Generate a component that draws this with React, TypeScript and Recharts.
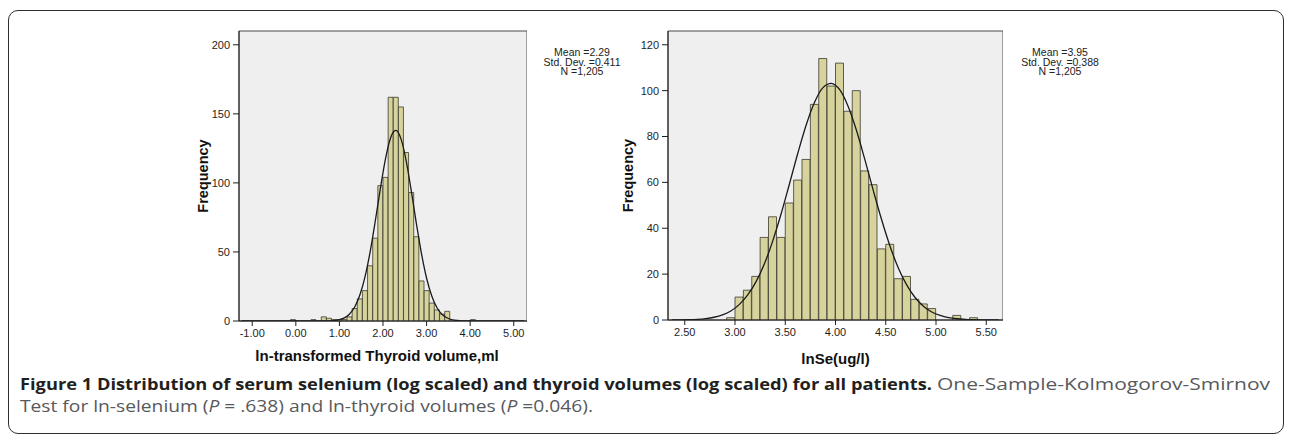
import React from "react";
import {
  ComposedChart,
  Bar,
  Line,
  XAxis,
  YAxis,
  CartesianGrid,
  ReferenceArea,
} from "recharts";

// left panel: ln thyroid volume, bins of 0.118 starting at -1.304
const THY_START = -1.304;
const THY_BIN = 0.118;
const THY_COUNTS = [
  0, 0, 0, 0, 0, 0, 0, 0, 0, 0,
  1, 0, 0, 0, 1, 0, 3, 2, 1, 1,
  1, 3, 9, 16, 22, 40, 60, 98, 104, 162,
  162, 155, 122, 93, 61, 29, 22, 13, 8, 5,
  7, 0, 0, 0, 0, 1, 0, 0, 0, 0,
  0, 0, 0, 0, 0, 0,
];
const THY_FIT = [
  0, 0, 0, 0, 0, 0, 0, 0, 0, 0,
  0, 0, 0, 0, 0, 0, 0.05, 0.14, 0.38, 1.0,
  2.3, 5.1, 10.1, 18.8, 32.0, 50.1, 72.4, 96.2, 117.8, 132.9,
  138.0, 131.9, 116.2, 94.2, 70.4, 48.4, 30.6, 17.9, 9.6, 4.7,
  2.2, 0.9, 0.35, 0.12, 0.04, 0, 0, 0, 0, 0,
  0, 0, 0, 0, 0, 0,
];
const THY_XTICKS = [-1, 0, 1, 2, 3, 4, 5];
const THY_YTICKS = [0, 50, 100, 150, 200];
const THY_STATS = ["Mean =2.29", "Std. Dev. =0.411", "N =1,205"];

// right panel: ln selenium, bins of 1/12 starting at 2.3333
const SE_START = 2.3333;
const SE_BIN = 1 / 12;
const SE_COUNTS = [
  0, 0, 0, 0, 0, 0, 0, 1, 10, 13,
  19, 36, 45, 36, 51, 61, 70, 94, 114, 102,
  112, 91, 100, 65, 59, 31, 33, 18, 19, 9,
  7, 5, 0, 0, 2, 0, 1, 0, 0, 0,
];
const SE_FIT = [
  0.03, 0.06, 0.14, 0.3, 0.62, 1.2, 2.2, 3.9, 6.7, 10.8,
  16.6, 24.4, 34.4, 46.2, 59.3, 72.7, 85.0, 94.9, 101.3, 103.2,
  100.4, 93.2, 82.7, 70.0, 56.6, 43.8, 32.3, 22.7, 15.3, 9.8,
  6.0, 3.5, 2.0, 1.05, 0.54, 0.26, 0.12, 0.05, 0.02, 0.01,
];
const SE_XTICKS = [2.5, 3, 3.5, 4, 4.5, 5, 5.5];
const SE_YTICKS = [0, 20, 40, 60, 80, 100, 120];
const SE_STATS = ["Mean =3.95", "Std. Dev. =0.388", "N =1,205"];

const FONT = "'Liberation Sans', Arial, sans-serif";
const CAPTION_FONT = "'Open Sans', 'Noto Sans', sans-serif";
const BAR_FILL = "#d7d39d";
const BAR_STROKE = "#3b3a2e";

type HistProps = {
  start: number;
  bin: number;
  counts: number[];
  fit: number[];
  xTicks: number[];
  yTicks: number[];
  yMax: number;
  xLabel: string;
  left: number;
  width: number;
  yAxisWidth: number;
  xAxisHeight: number;
  labelOffset: number;
  labelDx: number;
};

function Histogram(p: HistProps) {
  const rows = p.counts.map((c, i) => ({
    x: p.start + (i + 0.5) * p.bin,
    count: c,
    fit: p.fit[i],
  }));
  const end = p.start + p.counts.length * p.bin;
  const tickStyle = { fill: "#1e1e1e", fontSize: 11, fontFamily: FONT };

  return (
    <div style={{ position: "absolute", left: p.left, top: 0 }}>
      <ComposedChart
        width={p.width}
        height={370}
        data={rows}
        margin={{ top: 31, right: 0, bottom: 0, left: 0 }}
        barCategoryGap={0}
        barGap={0}
      >
        <CartesianGrid fill="#efefef" horizontal={false} vertical={false} />
        <XAxis
          type="number"
          dataKey="x"
          domain={[p.start, end]}
          allowDataOverflow
          ticks={p.xTicks}
          interval={0}
          tickFormatter={(v: number) => v.toFixed(2)}
          height={p.xAxisHeight}
          stroke="#1e1e1e"
          tick={tickStyle}
          tickSize={5}
          tickMargin={3}
          label={{
            value: p.xLabel,
            position: "insideBottom",
            offset: p.labelOffset,
            dx: p.labelDx,
            fill: "#111",
            fontSize: 15,
            fontWeight: "bold",
            fontFamily: FONT,
          }}
        />
        <YAxis
          type="number"
          domain={[0, p.yMax]}
          allowDataOverflow
          ticks={p.yTicks}
          interval={0}
          width={p.yAxisWidth}
          stroke="#1e1e1e"
          tick={tickStyle}
          tickSize={6}
          tickMargin={3}
          label={{
            value: "Frequency",
            angle: -90,
            position: "center",
            fill: "#111",
            fontSize: 14.5,
            fontWeight: "bold",
            fontFamily: FONT,
          }}
        />
        <Bar
          dataKey="count"
          fill={BAR_FILL}
          stroke={BAR_STROKE}
          strokeWidth={0.8}
          isAnimationActive={false}
        />
        <Line
          dataKey="fit"
          type="monotone"
          stroke="#1a1a1a"
          strokeWidth={1.3}
          dot={false}
          activeDot={false}
          isAnimationActive={false}
        />
        <ReferenceArea
          x1={p.start}
          x2={end}
          y1={0}
          y2={p.yMax}
          fill="none"
          stroke="#4a4a4a"
          strokeWidth={1}
        />
      </ComposedChart>
    </div>
  );
}

function Stats({ lines, left }: { lines: string[]; left: number }) {
  return (
    <div
      style={{
        position: "absolute",
        left,
        top: 48,
        width: 100,
        textAlign: "center",
        fontFamily: FONT,
        fontSize: 10.5,
        lineHeight: "9.5px",
        color: "#222",
      }}
    >
      {lines.map((l) => (
        <div key={l}>{l}</div>
      ))}
    </div>
  );
}

export default function App() {
  return (
    <div
      style={{
        position: "absolute",
        left: 0,
        top: 0,
        width: 1290,
        height: 438,
        overflow: "hidden",
        background: "#fff",
      }}
    >
      <div
        style={{
          position: "absolute",
          left: 8,
          top: 10,
          width: 1276,
          height: 424,
          border: "1.5px solid #2e2e2e",
          borderRadius: 10,
          boxSizing: "border-box",
        }}
      />

      <Histogram
        start={THY_START}
        bin={THY_BIN}
        counts={THY_COUNTS}
        fit={THY_FIT}
        xTicks={THY_XTICKS}
        yTicks={THY_YTICKS}
        yMax={210}
        xLabel="ln-transformed Thyroid volume,ml"
        left={167}
        width={360}
        yAxisWidth={72}
        xAxisHeight={49}
        labelOffset={9}
        labelDx={-6}
      />
      <Stats lines={THY_STATS} left={532} />

      <Histogram
        start={SE_START}
        bin={SE_BIN}
        counts={SE_COUNTS}
        fit={SE_FIT}
        xTicks={SE_XTICKS}
        yTicks={SE_YTICKS}
        yMax={126}
        xLabel="lnSe(ug/l)"
        left={587}
        width={416}
        yAxisWidth={81}
        xAxisHeight={50}
        labelOffset={6}
        labelDx={0}
      />
      <Stats lines={SE_STATS} left={1010} />

      <svg
        width={1290}
        height={70}
        style={{ position: "absolute", left: 0, top: 365 }}
      >
        <text
          x={20}
          y={25}
          textLength={912}
          lengthAdjust="spacingAndGlyphs"
          fontFamily={CAPTION_FONT}
          fontSize={16}
          fontWeight="bold"
          fill="#231f20"
        >
          Figure 1 Distribution of serum selenium (log scaled) and thyroid volumes (log scaled) for all patients.
        </text>
        <text
          x={937}
          y={25}
          textLength={333}
          lengthAdjust="spacingAndGlyphs"
          fontFamily={CAPTION_FONT}
          fontSize={16}
          fill="#58595b"
        >
          One-Sample-Kolmogorov-Smirnov
        </text>
        <text
          x={20}
          y={47}
          textLength={573}
          lengthAdjust="spacingAndGlyphs"
          fontFamily={CAPTION_FONT}
          fontSize={16}
          fill="#58595b"
        >
          Test for ln-selenium (<tspan fontStyle="italic">P</tspan> = .638) and ln-thyroid volumes (
          <tspan fontStyle="italic">P</tspan> =0.046).
        </text>
      </svg>
    </div>
  );
}
